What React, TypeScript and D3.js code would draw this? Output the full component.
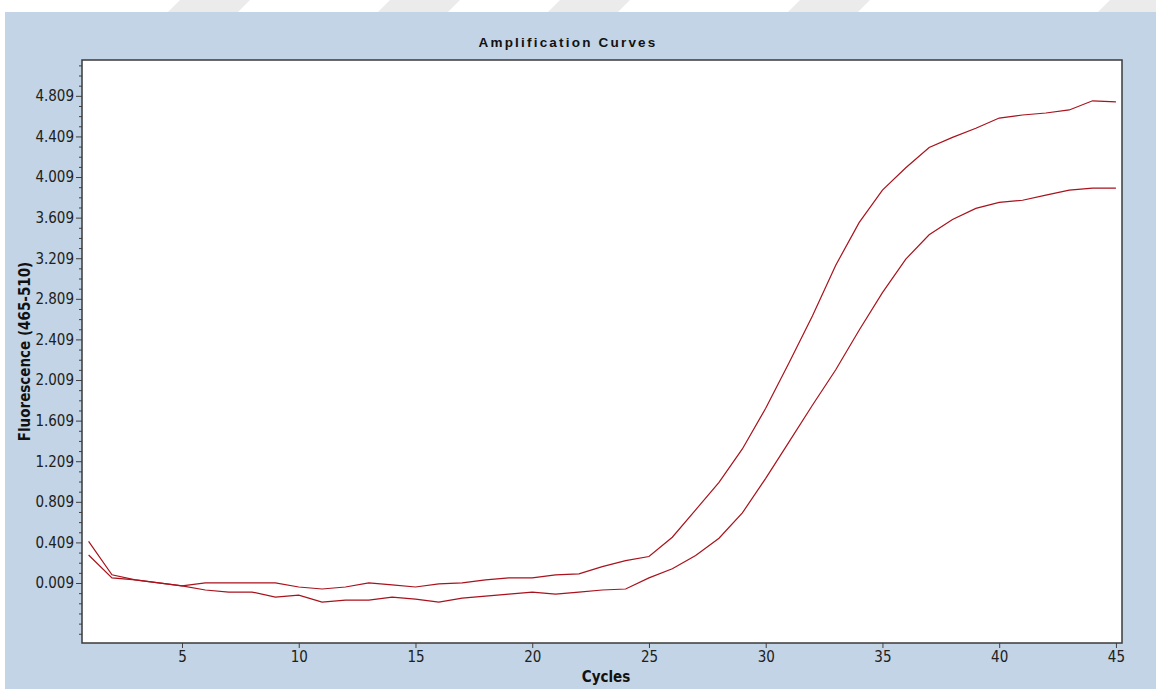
import { useEffect, useRef } from 'react';
import * as d3 from 'd3';

const cycles = [1, 2, 3, 4, 5, 6, 7, 8, 9, 10, 11, 12, 13, 14, 15, 16, 17, 18, 19, 20, 21, 22, 23, 24, 25, 26, 27, 28, 29, 30, 31, 32, 33, 34, 35, 36, 37, 38, 39, 40, 41, 42, 43, 44, 45];

const sampleA = [
  0.42, 0.09, 0.04, 0.01, -0.02, 0.01, 0.01, 0.01, 0.01, -0.03,
  -0.05, -0.03, 0.01, -0.01, -0.03, 0.0, 0.01, 0.04, 0.06, 0.06,
  0.09, 0.1, 0.17, 0.23, 0.27, 0.46, 0.73, 1.0, 1.33, 1.73,
  2.18, 2.64, 3.14, 3.56, 3.88, 4.1, 4.3, 4.4, 4.49, 4.59,
  4.62, 4.64, 4.67, 4.76, 4.75,
];

const sampleB = [
  0.285, 0.06, 0.04, 0.01, -0.02, -0.06, -0.08, -0.08, -0.13, -0.11,
  -0.18, -0.16, -0.16, -0.13, -0.15, -0.18, -0.14, -0.12, -0.1, -0.08,
  -0.1, -0.08, -0.06, -0.05, 0.06, 0.15, 0.28, 0.45, 0.7, 1.04,
  1.4, 1.76, 2.11, 2.5, 2.87, 3.2, 3.44, 3.59, 3.7, 3.76,
  3.78, 3.83, 3.88, 3.9, 3.9,
];

const xTicks = [5, 10, 15, 20, 25, 30, 35, 40, 45];
const yTicks = [0.009, 0.409, 0.809, 1.209, 1.609, 2.009, 2.409, 2.809, 3.209, 3.609, 4.009, 4.409, 4.809];

const W = 1156;
const H = 689;
const narrow = "'Liberation Sans Narrow', 'Arial Narrow', 'DejaVu Sans Condensed', sans-serif";

export default function App() {
  const svgRef = useRef<SVGSVGElement>(null);

  useEffect(() => {
    if (!svgRef.current) return;
    const svg = d3.select(svgRef.current);
    svg.selectAll('*').remove();

    const plot = { left: 82, top: 60, right: 1122, bottom: 643 };

    // page background: white strip on top/left, blue panel
    svg.append('rect').attr('width', W).attr('height', H).attr('fill', '#ffffff');
    const marks = [180, 390, 560, 800, 1110];
    svg.selectAll('.wm')
      .data(marks)
      .enter()
      .append('path')
      .attr('d', d => `M${d},0 L${d + 70},0 L${d + 58},12 L${d - 12},12 Z`)
      .attr('fill', '#ebebeb');
    svg.append('rect')
      .attr('x', 5).attr('y', 12)
      .attr('width', W - 5).attr('height', H - 12)
      .attr('fill', '#c2d4e5');

    const x = d3.scaleLinear().domain([0.717, 45.26]).range([plot.left, plot.right]);
    const y = d3.scaleLinear().domain([-0.582, 5.162]).range([plot.bottom, plot.top]);

    svg.append('rect')
      .attr('x', plot.left).attr('y', plot.top)
      .attr('width', plot.right - plot.left).attr('height', plot.bottom - plot.top)
      .attr('fill', '#ffffff');

    // x axis
    const xAxis = svg.append('g')
      .attr('transform', `translate(0,${plot.bottom})`)
      .call(d3.axisBottom(x).tickValues(xTicks).tickSize(5).tickPadding(3).tickFormat(d3.format('d')));
    xAxis.select('.domain').remove();
    xAxis.selectAll('line').attr('stroke', '#404040');
    xAxis.selectAll('text')
      .attr('font-family', narrow).attr('font-size', 15).attr('fill', '#202020');

    // y axis: minor ticks every 0.1, labelled every 0.4
    const minor = d3.range(-5, 52).map(k => 0.009 + k * 0.1)
      .filter(v => v > -0.58 && v < 5.16)
      .filter(v => !yTicks.some(t => Math.abs(t - v) < 1e-6));
    svg.append('g')
      .attr('transform', `translate(${plot.left},0)`)
      .call(d3.axisLeft(y).tickValues(minor).tickSize(3).tickFormat(() => ''))
      .call(g => g.select('.domain').remove())
      .call(g => g.selectAll('line').attr('stroke', '#404040'));
    const yAxis = svg.append('g')
      .attr('transform', `translate(${plot.left},0)`)
      .call(d3.axisLeft(y).tickValues(yTicks).tickSize(6).tickPadding(2).tickFormat(d3.format('.3f')));
    yAxis.select('.domain').remove();
    yAxis.selectAll('line').attr('stroke', '#404040');
    yAxis.selectAll('text')
      .attr('font-family', narrow).attr('font-size', 15).attr('fill', '#202020');

    // curves
    const line = d3.line<number>()
      .x((_, i) => x(cycles[i]))
      .y(d => y(d));
    [sampleA, sampleB].forEach(s => {
      svg.append('path')
        .datum(s)
        .attr('d', line)
        .attr('fill', 'none')
        .attr('stroke', '#a8121c')
        .attr('stroke-width', 1.2);
    });

    // frame
    svg.append('rect')
      .attr('x', plot.left).attr('y', plot.top)
      .attr('width', plot.right - plot.left).attr('height', plot.bottom - plot.top)
      .attr('fill', 'none')
      .attr('stroke', '#3a3a3a')
      .attr('stroke-width', 1.5);

    svg.append('text')
      .attr('x', 568).attr('y', 47)
      .attr('text-anchor', 'middle')
      .attr('font-family', 'Liberation Sans, Arial, sans-serif')
      .attr('font-weight', 'bold')
      .attr('font-size', 13.5)
      .attr('letter-spacing', 2.2)
      .attr('fill', '#111')
      .text('Amplification Curves');

    svg.append('text')
      .attr('x', 606).attr('y', 682)
      .attr('text-anchor', 'middle')
      .attr('font-family', narrow)
      .attr('font-weight', 'bold')
      .attr('font-size', 15)
      .attr('fill', '#111')
      .text('Cycles');

    svg.append('text')
      .attr('transform', `translate(30,${(plot.top + plot.bottom) / 2}) rotate(-90)`)
      .attr('text-anchor', 'middle')
      .attr('font-family', narrow)
      .attr('font-weight', 'bold')
      .attr('font-size', 15)
      .attr('fill', '#111')
      .text('Fluorescence (465-510)');
  }, []);

  return (
    <svg
      ref={svgRef}
      width={W}
      height={H}
      style={{ position: 'absolute', left: 0, top: 0, display: 'block' }}
    />
  );
}
